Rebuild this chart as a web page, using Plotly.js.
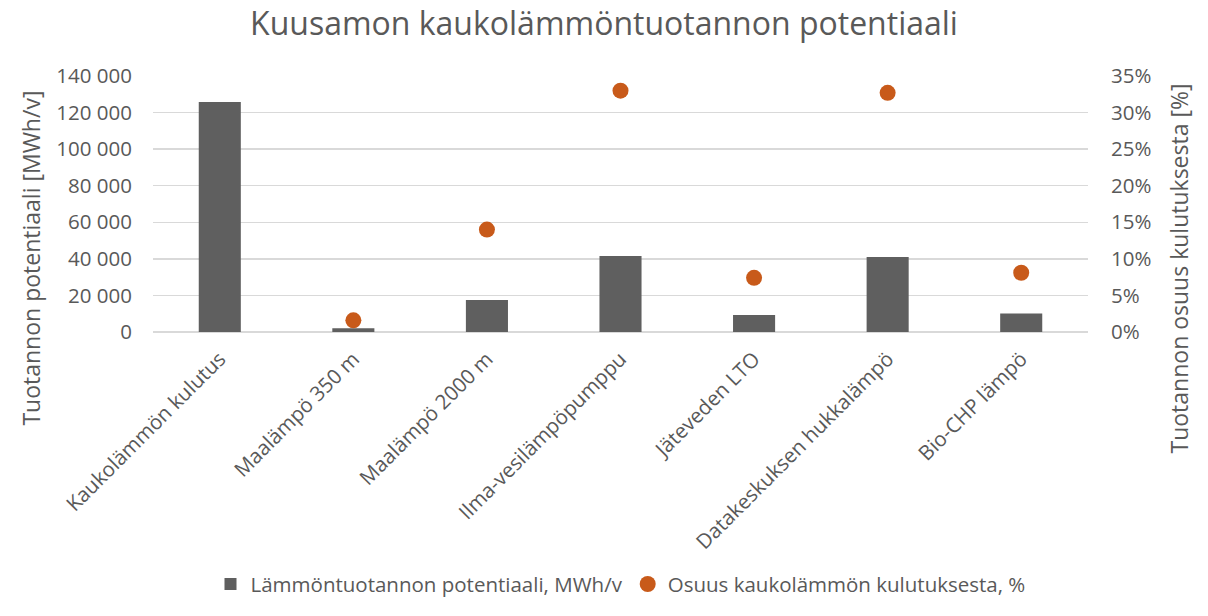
<!DOCTYPE html>
<html>
<head>
<meta charset="utf-8">
<script src="https://cdn.plot.ly/plotly-3.0.1.min.js"></script>
<style>html,body{margin:0;padding:0;background:#fff;}#chart{width:1208px;height:616px;}</style>
</head>
<body>
<div id="chart"></div>
<script>
const categories = ["Kaukolämmön kulutus", "Maalämpö 350 m", "Maalämpö 2000 m", "Ilma-vesilämpöpumppu", "Jäteveden LTO", "Datakeskuksen hukkalämpö", "Bio-CHP lämpö"];
const potential = [125800, 2000, 17500, 41500, 9300, 41000, 10100];
const share = [null, 0.016, 0.140, 0.330, 0.074, 0.327, 0.081];
const leftTicks = [0, 20000, 40000, 60000, 80000, 100000, 120000, 140000];
const rightTicks = [0, 0.05, 0.10, 0.15, 0.20, 0.25, 0.30, 0.35];
const titleText = "Kuusamon kaukolämmöntuotannon potentiaali";
const leftTitle = "Tuotannon potentiaali [MWh/v]";
const rightTitle = "Tuotannon osuus kulutuksesta [%]";

const font = "'Open Sans', sans-serif";
const grey = "#595959";

const traces = [
  {
    type: "bar", x: categories, y: potential, name: "Lämmöntuotannon potentiaali, MWh/v",
    marker: {color: "#5F5F5F"}, width: 0.315, hoverinfo: "x+y"
  },
  {
    type: "scatter", mode: "markers", x: categories, y: share, yaxis: "y2",
    name: "Osuus kaukolämmön kulutuksesta, %",
    marker: {color: "#C85A1A", size: 16}
  }
];

const layout = {
  width: 1208, height: 616,
  margin: {l: 153, r: 120, t: 76, b: 282},
  paper_bgcolor: "#fff", plot_bgcolor: "#fff",
  separators: ", ",
  font: {family: font, color: grey, size: 18},
  title: {text: titleText, font: {size: 32, color: grey, family: font}, x: 0.5, xanchor: "center", y: 0.961, yanchor: "middle"},
  showlegend: true,
  legend: {orientation: "h", x: 0.5, xanchor: "center", y: -0.985, yanchor: "middle", font: {size: 20.5, color: grey}, itemwidth: 20, tracegroupgap: 30},
  bargap: 0.685,
  xaxis: {
    tickangle: -45, tickfont: {size: 20.5, color: grey}, showgrid: false, showline: false, zeroline: false, ticks: "", automargin: false,
    ticklabelstandoff: 10
  },
  yaxis: {
    range: [0, 140000], tickvals: leftTicks, tickformat: ",d", showgrid: true, gridcolor: "#D9D9D9", gridwidth: 1.3,
    zeroline: true, zerolinecolor: "#D9D9D9", zerolinewidth: 1.3, showline: false, ticks: "", ticklen: 0,
    tickfont: {size: 20.5, color: grey}, ticklabelstandoff: 20, automargin: false
  },
  yaxis2: {
    overlaying: "y", side: "right", range: [0, 0.35], tickvals: rightTicks, tickformat: ".0%", showgrid: false, zeroline: false, showline: false,
    tickfont: {size: 20.5, color: grey}, ticks: "", ticklabelstandoff: 22, automargin: false
  },
  annotations: [
    {text: leftTitle, textangle: -90, xref: "paper", yref: "paper", x: (31 - 153) / 935, y: (334 - 260) / 258,
     xanchor: "center", yanchor: "middle", showarrow: false, font: {size: 23, color: grey, family: font}},
    {text: rightTitle, textangle: -90, xref: "paper", yref: "paper", x: (1179 - 153) / 935, y: (334 - 270) / 258,
     xanchor: "center", yanchor: "middle", showarrow: false, font: {size: 23, color: grey, family: font}}
  ]
};

Plotly.newPlot("chart", traces, layout, {displayModeBar: false, staticPlot: true});
</script>
</body>
</html>
